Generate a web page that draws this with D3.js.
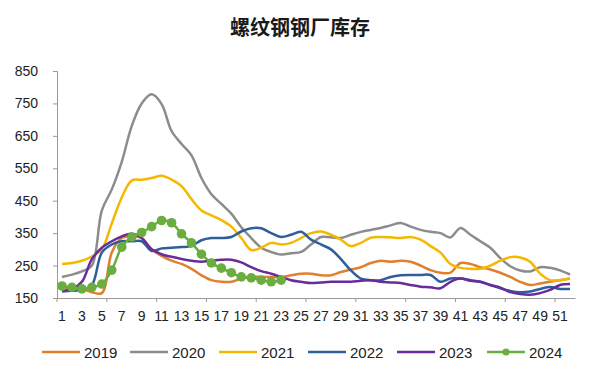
<!DOCTYPE html>
<html>
<head>
<meta charset="utf-8">
<script src="https://cdn.jsdelivr.net/npm/d3@7"></script>
<style>
  body { margin: 0; background: #fff; }
  svg { display: block; font-family: "Liberation Sans", Arial, sans-serif; }
</style>
</head>
<body>
<svg id="chart" width="600" height="379"></svg>
<script>
const weeks = d3.range(1, 53);
const yTicks = [150, 250, 350, 450, 550, 650, 750, 850];
const years = ["2019", "2020", "2021", "2022", "2023", "2024"];

const s2019 = [185, 180, 178, 168, 165, 290, 335, 340, 335, 300, 280, 265, 255, 240, 220, 205, 200, 200, 210, 215, 215, 215, 215, 220, 225, 225, 220, 220, 230, 238, 245, 258, 265, 262, 265, 262, 250, 236, 228, 228, 258, 255, 245, 238, 228, 215, 200, 190, 195, 200, 205, 210];
const s2020 = [215, 222, 232, 250, 420, 485, 570, 680, 750, 778, 748, 665, 625, 590, 520, 470, 440, 410, 368, 335, 305, 292, 284, 288, 292, 315, 338, 337, 335, 345, 354, 360, 366, 374, 381, 370, 360, 354, 350, 337, 366, 345, 325, 305, 273, 248, 235, 232, 245, 243, 235, 222];
const s2021 = [255, 258, 265, 278, 300, 380, 460, 512, 515, 520, 527, 515, 495, 455, 420, 405, 390, 370, 335, 298, 305, 320, 315, 320, 335, 350, 355, 345, 330, 310, 320, 336, 338, 337, 335, 338, 330, 310, 290, 255, 243, 240, 240, 250, 265, 276, 275, 262, 225, 205, 205, 210];
const s2022 = [170, 172, 175, 190, 290, 315, 325, 325, 325, 295, 303, 305, 307, 310, 328, 335, 335, 338, 355, 365, 365, 350, 338, 345, 354, 330, 315, 300, 270, 235, 210, 205, 205, 215, 220, 221, 221, 221, 200, 210, 210, 205, 200, 190, 180, 172, 168, 170, 178, 184, 178, 178];
const s2023 = [172, 178, 200, 270, 305, 325, 340, 348, 335, 300, 285, 277, 270, 265, 262, 265, 268, 268, 260, 245, 233, 225, 215, 205, 200, 196, 198, 200, 200, 200, 203, 205, 200, 198, 196, 190, 185, 183, 180, 200, 210, 203, 200, 190, 182, 168, 162, 160, 165, 175, 190, 193];
const s2024 = [187, 183, 178, 183, 193, 236, 307, 338, 352, 370, 389, 382, 348, 320, 285, 258, 242, 228, 215, 212, 205, 200, 205];

const seriesList = [
  { name: "2019", values: s2019, color: "#E0802F" },
  { name: "2020", values: s2020, color: "#8C8C8C" },
  { name: "2021", values: s2021, color: "#F5B800" },
  { name: "2022", values: s2022, color: "#2F5F9A" },
  { name: "2023", values: s2023, color: "#6A2C9C" },
  { name: "2024", values: s2024, color: "#6AAE3F", dots: true }
];

const svg = d3.select("#chart");
const margin = { left: 57, right: 25, top: 71, bottom: 81 };
const width = 600 - margin.left - margin.right;
const height = 379 - margin.top - margin.bottom;

const x = d3.scaleBand().domain(weeks).range([margin.left, margin.left + width]);
const y = d3.scaleLinear().domain([150, 850]).range([margin.top + height, margin.top]);

// title
svg.append("text")
  .attr("x", 300).attr("y", 35)
  .attr("text-anchor", "middle")
  .attr("font-family", "'Noto Sans CJK SC', sans-serif")
  .attr("font-size", 20).attr("font-weight", "bold")
  .attr("fill", "#1a1a1a")
  .text("螺纹钢钢厂库存");

// y axis
const yAxis = d3.axisLeft(y).tickValues(yTicks).tickSize(4).tickPadding(15);
const gy = svg.append("g").attr("transform", `translate(${margin.left},0)`).call(yAxis);
gy.select(".domain").attr("stroke", "#999");
gy.selectAll(".tick line").attr("stroke", "#999");
gy.selectAll(".tick text").attr("font-size", 14).attr("fill", "#222");

// x axis
const xAxis = d3.axisBottom(x)
  .tickValues(weeks.filter(w => w % 2 === 1))
  .tickSize(0).tickPadding(13);
const gx = svg.append("g").attr("transform", `translate(0,${margin.top + height})`).call(xAxis);
gx.select(".domain").attr("stroke", "#999");
gx.selectAll(".tick text").attr("font-size", 14).attr("fill", "#222");

// x tick marks every 5 weeks at band edges
gx.selectAll(".minor")
  .data(d3.range(0, 53, 5))
  .enter().append("line")
  .attr("x1", d => margin.left + d * x.step())
  .attr("x2", d => margin.left + d * x.step())
  .attr("y1", 0).attr("y2", 4)
  .attr("stroke", "#999");

const line = d3.line()
  .x((d, i) => x(weeks[i]) + x.bandwidth() / 2)
  .y(d => y(d))
  .curve(d3.curveCatmullRom.alpha(0.5));

seriesList.forEach(s => {
  svg.append("path")
    .datum(s.values)
    .attr("fill", "none")
    .attr("stroke", s.color)
    .attr("stroke-width", 2.5)
    .attr("stroke-linejoin", "round")
    .attr("d", line);
  if (s.dots) {
    svg.selectAll(".dot" + s.name)
      .data(s.values)
      .enter().append("circle")
      .attr("cx", (d, i) => x(weeks[i]) + x.bandwidth() / 2)
      .attr("cy", d => y(d))
      .attr("r", 4.8)
      .attr("fill", s.color);
  }
});

// legend
const legendX = [42, 130, 219, 308, 397, 487];
const legend = svg.append("g").attr("transform", "translate(0,352)");
seriesList.forEach((s, i) => {
  const g = legend.append("g").attr("transform", `translate(${legendX[i]},0)`);
  g.append("line").attr("x1", 0).attr("x2", 38).attr("y1", 0).attr("y2", 0)
    .attr("stroke", s.color).attr("stroke-width", 2.5);
  if (s.dots) {
    g.append("circle").attr("cx", 19).attr("cy", 0).attr("r", 3.5).attr("fill", s.color);
  }
  g.append("text").attr("x", 42).attr("y", 5.5)
    .attr("font-size", 15).attr("fill", "#222")
    .text(s.name);
});
</script>
</body>
</html>
